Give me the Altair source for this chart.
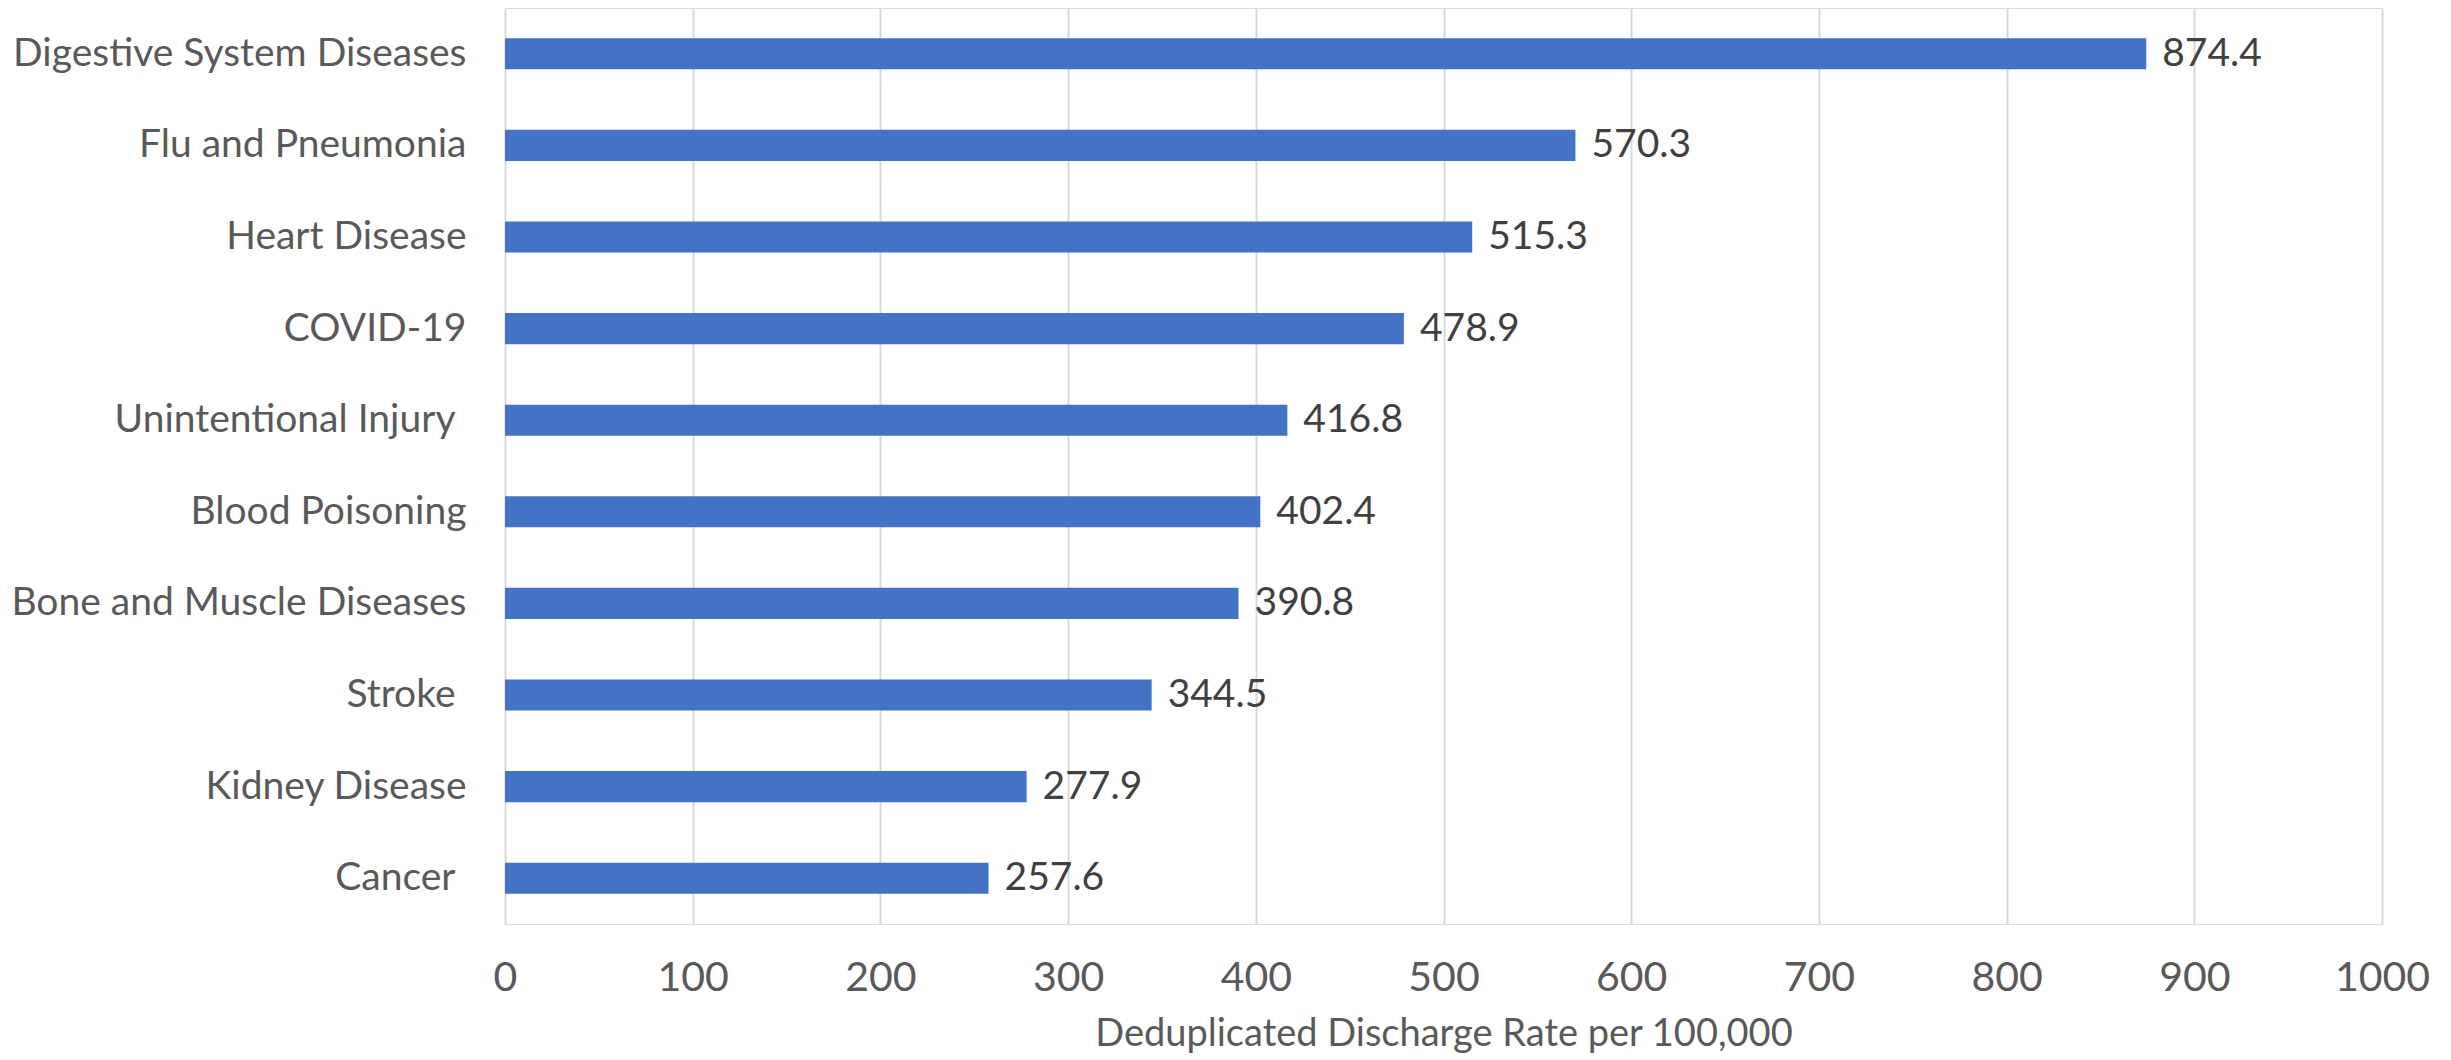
import altair as alt
import pandas as pd

categories = [
    "Digestive System Diseases",
    "Flu and Pneumonia",
    "Heart Disease",
    "COVID-19",
    "Unintentional Injury ",
    "Blood Poisoning",
    "Bone and Muscle Diseases",
    "Stroke ",
    "Kidney Disease",
    "Cancer ",
]
values = [874.4, 570.3, 515.3, 478.9, 416.8, 402.4, 390.8, 344.5, 277.9, 257.6]
x_ticks = [0, 100, 200, 300, 400, 500, 600, 700, 800, 900, 1000]

df = pd.DataFrame({"category": categories, "value": values})

FONT = "Lato"

y_enc = alt.Y(
    "category:N",
    sort=categories,
    scale=alt.Scale(paddingInner=0.66, paddingOuter=0.33),
    axis=alt.Axis(
        title=None,
        labelFont=FONT,
        labelFontSize=39,
        labelColor="#595959",
        labelPadding={
            "condition": {
                "test": "substring(datum.value, length(datum.value) - 1) == ' '",
                "value": 50,
            },
            "value": 39,
        },
        ticks=False,
        domain=False,
        grid=False,
        labelLimit=1000,
    ),
)

x_enc = alt.X(
    "value:Q",
    scale=alt.Scale(domain=[0, 1000], nice=False),
    axis=alt.Axis(
        title="Deduplicated Discharge Rate per 100,000",
        titleFont=FONT,
        titleFontSize=38,
        titleFontWeight="normal",
        titleColor="#595959",
        titlePadding=17,
        labelFont=FONT,
        labelFontSize=41,
        labelColor="#595959",
        labelPadding=34,
        labelFlush=False,
        format="d",
        values=x_ticks,
        ticks=False,
        domain=False,
        grid=True,
        gridColor="#d9d9d9",
        gridWidth=2,
    ),
)

bars = alt.Chart(df).mark_bar(color="#4472C4").encode(x=x_enc, y=y_enc)

labels = alt.Chart(df).mark_text(
    align="left", baseline="middle", dx=16, font=FONT, fontSize=39, color="#404040"
).encode(
    x=alt.X("value:Q"),
    y=alt.Y("category:N", sort=categories),
    text=alt.Text("value:Q", format=".1f"),
)

chart = (
    alt.layer(bars, labels)
    .properties(
        width=1877,
        height=916,
        autosize=alt.AutoSizeParams(type="none"),
        padding={"left": 497, "top": 0, "right": 50, "bottom": 142},
    )
    .configure_view(stroke=None)
    .configure(background="white")
)

chart.save("out.html", embed_options={"renderer": "svg", "actions": False})
